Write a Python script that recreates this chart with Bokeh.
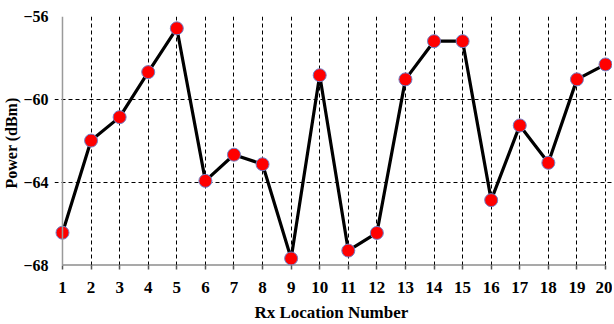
from bokeh.plotting import figure
from bokeh.models import Range1d, FixedTicker, Span
from bokeh.embed import file_html
from bokeh.resources import INLINE

# Data
locations = list(range(1, 21))
power = [-66.42, -61.98, -60.85, -58.68, -56.57, -63.92, -62.66, -63.12, -67.66, -58.83,
         -67.28, -66.43, -59.03, -57.19, -57.19, -64.85, -61.25, -63.05, -59.03, -58.31]
x_ticks = list(range(1, 21))
y_ticks = [-68, -64, -60, -56]
y_min, y_max = -68, -56

FONT = "Liberation Serif"

# Layout (pixels)
W, H = 612, 324
border_left, border_top, border_bottom = 53, 16, 58
pad_left_px, pad_right_px = 8, 7
frame_w = W - border_left
px_per_unit = (frame_w - pad_left_px - pad_right_px) / (locations[-1] - locations[0])
x_start = locations[0] - pad_left_px / px_per_unit
x_end = locations[-1] + pad_right_px / px_per_unit

p = figure(width=W, height=H, output_backend="svg", toolbar_location=None,
           x_range=Range1d(x_start, x_end), y_range=Range1d(y_min, y_max),
           min_border_left=border_left, min_border_right=0,
           min_border_top=border_top, min_border_bottom=border_bottom)
p.outline_line_color = None
p.background_fill_color = "white"

# Axes
p.xaxis.ticker = FixedTicker(ticks=x_ticks)
p.yaxis.ticker = FixedTicker(ticks=y_ticks)
for ax, size in ((p.xaxis[0], "17px"), (p.yaxis[0], "16px")):
    ax.axis_line_color = None
    ax.minor_tick_line_color = None
    ax.major_label_text_font = FONT
    ax.major_label_text_font_style = "bold"
    ax.major_label_text_font_size = size
    ax.major_label_text_color = "black"
    ax.axis_label_text_font = FONT
    ax.axis_label_text_font_style = "bold"
    ax.axis_label_text_font_size = size
    ax.axis_label_text_color = "black"

p.xaxis.axis_label = "Rx Location  Number"
p.xaxis.major_tick_out = 4
p.xaxis.major_tick_in = 0
p.xaxis.major_tick_line_color = "#555555"
p.xaxis.major_tick_line_width = 1.5
p.xaxis.major_label_standoff = 12
p.xaxis.axis_label_standoff = 7

p.yaxis.axis_label = "Power  (dBm)"
p.yaxis.major_tick_out = 0
p.yaxis.major_tick_in = 0
p.yaxis.major_label_standoff = 6
p.yaxis.axis_label_standoff = 0

# Grid
p.xgrid.ticker = FixedTicker(ticks=x_ticks[1:])
p.ygrid.ticker = FixedTicker(ticks=[t for t in y_ticks if t != y_min])
for g in (p.xgrid[0], p.ygrid[0]):
    g.grid_line_color = "black"
    g.grid_line_dash = "4 3"
    g.grid_line_width = 1

# Axis lines
p.add_layout(Span(location=locations[0], dimension="height", line_color="#9a9a9a", line_width=1.5))
p.segment(x0=[locations[0]], y0=[y_min], x1=[locations[-1]], y1=[y_min],
          line_color="#555555", line_width=2)

# Data
p.line(locations, power, line_color="black", line_width=3.2)
p.scatter(locations, power, size=13, fill_color="#ff0000", line_color="#7080c8", line_width=1)

open("out.html", "w").write(file_html(p, INLINE))
